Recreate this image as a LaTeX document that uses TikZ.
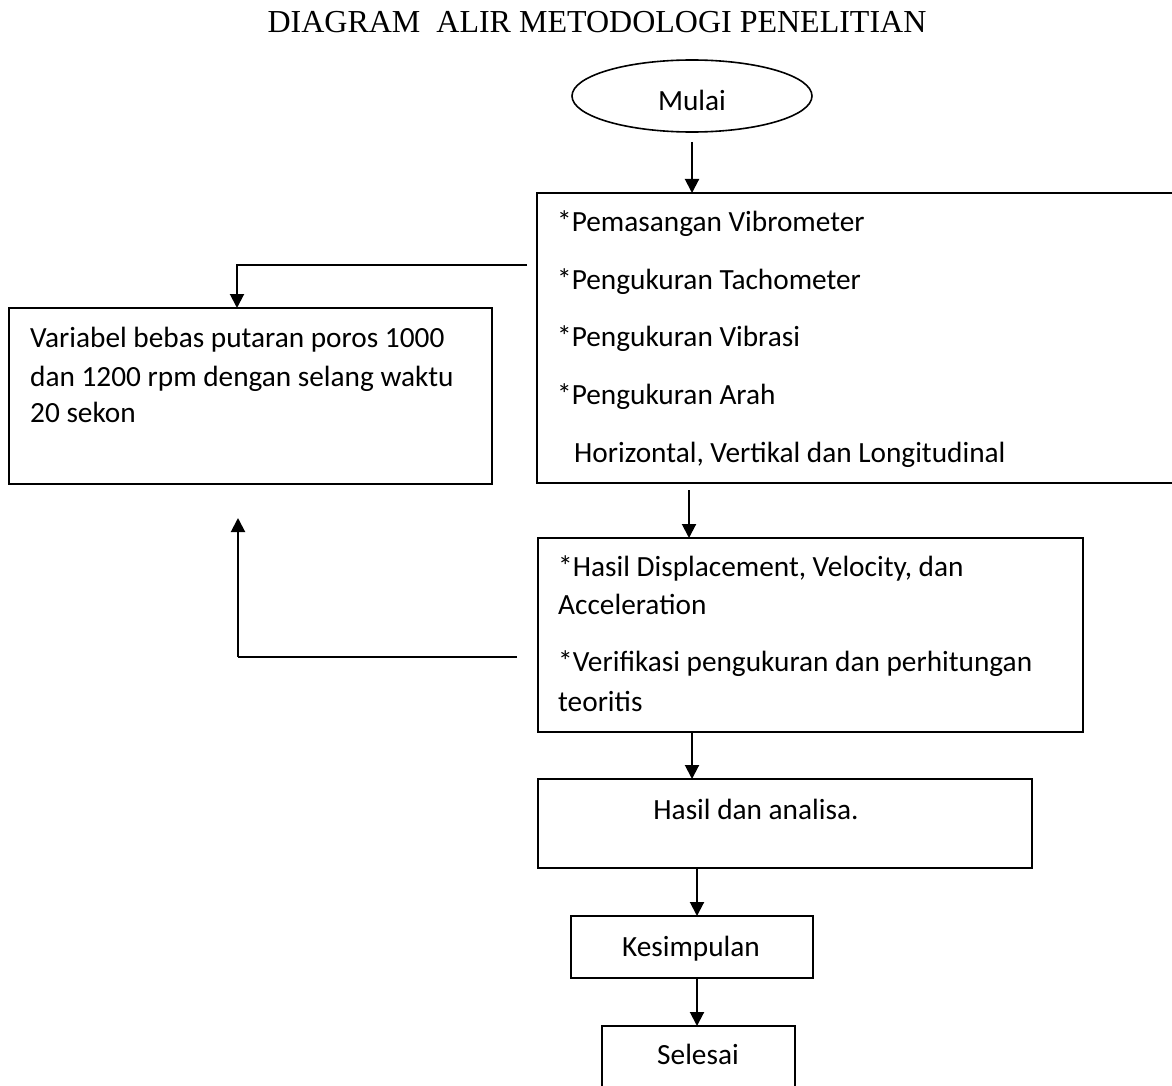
\documentclass[tikz,border=0pt]{standalone}
\usepackage{fontspec}
\setmainfont{Carlito}
\newfontfamily\titlefont{Liberation Serif}
\usetikzlibrary{arrows.meta,shapes.geometric}
\begin{document}
\begin{tikzpicture}[x=1pt,y=-1pt,
  box/.style={draw,line width=1.6pt,anchor=north west,inner sep=0pt,outer sep=0pt},
  lbl/.style={inner sep=0pt,font=\fontsize{29.3}{37.5}\selectfont},
  arr/.style={line width=2pt,-{Triangle[length=14pt,width=14pt]}},
  ln/.style={line width=2pt}]
\useasboundingbox (0,0) rectangle (1172,1086);
\clip (0,0) rectangle (1172,1086);
% title
\node[inner sep=0pt,anchor=base,font=\titlefont\fontsize{32}{38}\selectfont] (title) at (597,33) {DIAGRAM\ \ ALIR METODOLOGI PENELITIAN};
% start
\node[draw,ellipse,line width=1.6pt,minimum width=240pt,minimum height=72pt,inner sep=0pt,outer sep=0pt] (mulai) at (692,96) {};
\node[lbl,anchor=base] (tmulai) at (692,111) {Mulai};
% boxes
\node[box,minimum width=653pt,minimum height=290pt] (b1) at (537,193) {};
\node[box,minimum width=483pt,minimum height=176pt] (lb) at (9,308) {};
\node[box,minimum width=545pt,minimum height=194pt] (b2) at (538,538) {};
\node[box,minimum width=494pt,minimum height=89pt] (b3) at (538,779) {};
\node[box,minimum width=242pt,minimum height=62pt] (b4) at (571,916) {};
\node[box,minimum width=193pt,minimum height=80pt] (b5) at (602,1026) {};
% texts box1
\node[lbl,anchor=base west] (t11) at (557,231) {*Pemasangan Vibrometer};
\node[lbl,anchor=base west] (t12) at (557,289) {*Pengukuran Tachometer};
\node[lbl,anchor=base west] (t13) at (557,346) {*Pengukuran Vibrasi};
\node[lbl,anchor=base west] (t14) at (557,404) {*Pengukuran Arah};
\node[lbl,anchor=base west] (t15) at (574,462) {Horizontal, Vertikal dan Longitudinal};
% left box
\node[lbl,anchor=base west] (tl1) at (30,347) {Variabel bebas putaran poros 1000};
\node[lbl,anchor=base west] (tl2) at (30,386) {dan 1200 rpm dengan selang waktu};
\node[lbl,anchor=base west] (tl3) at (30,422) {20 sekon};
% box2
\node[lbl,anchor=base west] (t21) at (558,576) {*Hasil Displacement, Velocity, dan};
\node[lbl,anchor=base west] (t22) at (558,614) {Acceleration};
\node[lbl,anchor=base west] (t23) at (558,671) {*Verifikasi pengukuran dan perhitungan};
\node[lbl,anchor=base west] (t24) at (558,711) {teoritis};
% box3-5
\node[lbl,anchor=base] (t3) at (756,819) {Hasil dan analisa.};
\node[lbl,anchor=base] (t4) at (691,956) {Kesimpulan};
\node[lbl,anchor=base] (t5) at (698,1064) {Selesai};
% connector coordinates
\coordinate (c1s) at (527,265);
\coordinate (c1m) at (237,265);
\coordinate (c2s) at (517,657);
\coordinate (c2m) at (238,657);
\coordinate (c2e) at (238,518);
% arrows
\draw[arr] ([yshift=-10pt]mulai.south) -- (mulai.south |- b1.north);
\draw[arr] (c1s) -- (c1m) -- (c1m |- lb.north);
\draw[arr] ([yshift=-7pt]b1.south -| 689,0) -- (689,0 |- b2.north);
\draw[ln] (c2s) -- (c2m);
\draw[arr] (c2m) -- (c2e);
\draw[arr] (b2.south -| 692,0) -- (692,0 |- b3.north);
\draw[arr] (b3.south -| 697,0) -- (697,0 |- b4.north);
\draw[arr] (b4.south -| 697,0) -- (697,0 |- b5.north);
\end{tikzpicture}
\end{document}
